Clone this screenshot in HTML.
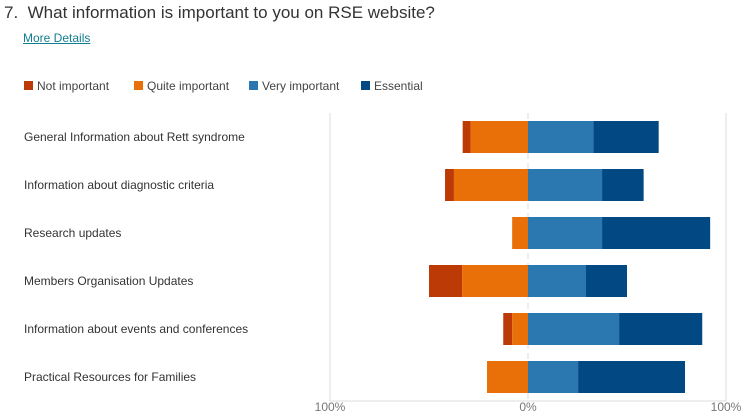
<!DOCTYPE html>
<html><head><meta charset="utf-8"><style>
body{margin:0;width:745px;height:418px;background:#fff;font-family:"Liberation Sans",sans-serif;overflow:hidden;position:relative}
.t{position:absolute;left:4px;top:3px;font-size:17px;color:#333}
.md{position:absolute;left:23px;top:31px;font-size:12px;color:#117e8f;text-decoration:underline}
</style></head><body>
<div class="t">7.&nbsp; What information is important to you on RSE website?</div>
<div class="md">More Details</div>
<svg id="c" width="745" height="418" style="position:absolute;left:0;top:0"></svg>
<script>
const categories=["General Information about Rett syndrome","Information about diagnostic criteria","Research updates","Members Organisation Updates","Information about events and conferences","Practical Resources for Families"];
const notImportant=[4,4.5,0,16.7,4.5,0];
const quiteImportant=[29,37.4,8,33.3,8,20.7];
const veryImportant=[33,37.4,37.4,29.3,46,25.3];
const essential=[33,21,54.6,20.7,42,54];
const seriesNames=["Not important","Quite important","Very important","Essential"];
const colors=["#bb3a05","#e97008","#2b78b0","#024883"];
const tickLabels=["100%","0%","100%"];
const tickValues=[-100,0,100];
const NS="http://www.w3.org/2000/svg";
const svg=document.getElementById('c');
const x=v=>528+v*1.98;
const y=i=>121+i*48;
const BH=32;
function mk(t,a){const e=document.createElementNS(NS,t);for(const k in a)e.setAttribute(k,a[k]);svg.appendChild(e);return e;}
// legend
const lx=[24,134,249,361];
seriesNames.forEach((n,i)=>{
 const r=mk('rect',{x:lx[i],y:81,width:9,height:9,fill:colors[i]});
 
 
 const t=mk('text',{x:lx[i]+13,y:90,'font-size':12,fill:'#444'});t.textContent=n;
 
 
});
// grid
tickValues.forEach((v,i)=>{
 const l=mk('line',{x1:x(v),x2:x(v),y1:113,y2:401,stroke:'#ddd','stroke-width':1,'stroke-dasharray':v===0?'6,4':''});
 
 
 const t=mk('text',{x:x(v),y:411,'font-size':12,fill:'#777','text-anchor':'middle'});t.textContent=tickLabels[i];
 
 
});
const ax=mk('line',{x1:330,x2:726,y1:401,y2:401,stroke:'#ddd'});


categories.forEach((c,i)=>{
 const t=mk('text',{x:24,y:y(i)+BH/2+4,'font-size':12,fill:'#333'});t.textContent=c;
 
 
 const q=quiteImportant[i],n=notImportant[i],v=veryImportant[i],e=essential[i];
 const segs=[[x(-q-n),n,0],[x(-q),q,1],[x(0),v,2],[x(v),e,3]];
 segs.forEach(s=>{ if(s[1]<=0)return;
  const r=mk('rect',{x:s[0],y:y(i),width:s[1]*1.98,height:BH,fill:colors[s[2]]});
  
  
 });
});
</script>
</body></html>
